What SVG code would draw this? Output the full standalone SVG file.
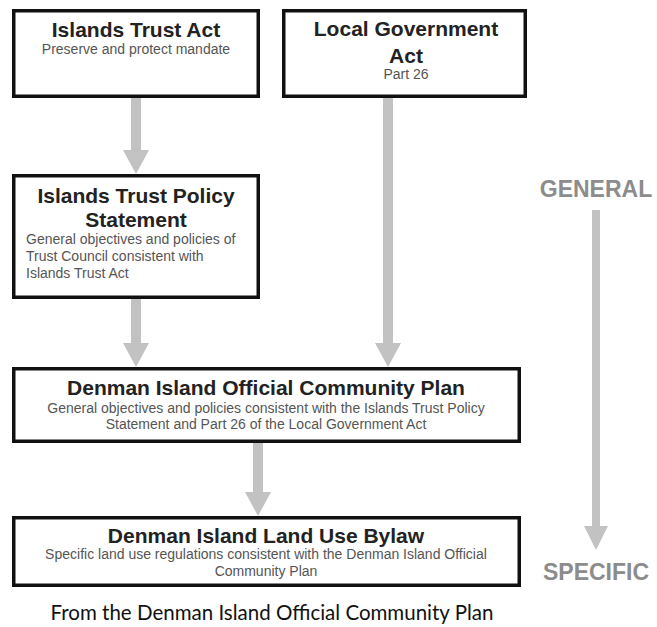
<svg xmlns="http://www.w3.org/2000/svg" width="657" height="627" viewBox="0 0 657 627">
<defs>
<style>
.box{fill:#fff;stroke:#111;stroke-width:3.5}
.t{font-family:"Liberation Sans",Arial,sans-serif;font-weight:bold;font-size:21px;fill:#222;text-anchor:middle}
.b{font-family:"Liberation Sans",Arial,sans-serif;font-size:14px;fill:#555;text-anchor:middle}
.bl{text-anchor:start}
.g{font-family:"Liberation Sans",Arial,sans-serif;font-weight:bold;font-size:23px;fill:#8c8c8c;text-anchor:middle}
.cap{font-family:"Lato","Open Sans",sans-serif;font-size:20.5px;fill:#111;text-anchor:middle}
.arr{fill:#c2c2c2}
</style>
</defs>
<rect width="657" height="627" fill="#fff"/>
<g id="connectors">
<polygon class="arr" points="131,98 141,98 141,150 149,150 136,174 123,150 131,150"/>
<polygon class="arr" points="131,299 141,299 141,343 149,343 136,367 123,343 131,343"/>
<polygon class="arr" points="383,98 393,98 393,343 401,343 388,367 375,343 383,343"/>
<polygon class="arr" points="253,443 263,443 263,492 271,492 258,516 245,492 253,492"/>
</g>
<g id="n-ita">
<rect class="box" x="13.75" y="10.75" width="244.5" height="85.5"/>
<text class="t" x="136" y="37">Islands Trust Act</text>
<text class="b" x="136" y="54">Preserve and protect mandate</text>
</g>
<g id="n-lga">
<rect class="box" x="283.75" y="10.75" width="241.5" height="85.5"/>
<text class="t" x="406" y="36">Local Government</text>
<text class="t" x="406" y="63">Act</text>
<text class="b" x="406" y="79">Part 26</text>
</g>
<g id="n-itps">
<rect class="box" x="13.75" y="175.75" width="244.5" height="121.5"/>
<text class="t" x="136" y="203">Islands Trust Policy</text>
<text class="t" x="136" y="227">Statement</text>
<text class="b bl" x="26" y="244">General objectives and policies of</text>
<text class="b bl" x="26" y="261">Trust Council consistent with</text>
<text class="b bl" x="26" y="278">Islands Trust Act</text>
</g>
<g id="n-ocp">
<rect class="box" x="13.75" y="368.75" width="505.5" height="72.5"/>
<text class="t" x="266" y="395">Denman Island Official Community Plan</text>
<text class="b" x="266" y="413">General objectives and policies consistent with the Islands Trust Policy</text>
<text class="b" x="266" y="429">Statement and Part 26 of the Local Government Act</text>
</g>
<g id="n-lub">
<rect class="box" x="13.75" y="517.75" width="505.5" height="67.5"/>
<text class="t" x="266" y="543">Denman Island Land Use Bylaw</text>
<text class="b" x="266" y="559">Specific land use regulations consistent with the Denman Island Official</text>
<text class="b" x="266" y="576">Community Plan</text>
</g>
<g id="scale">
<text class="g" x="596" y="197">GENERAL</text>
<polygon class="arr" points="592,210 600,210 600,526 608,526 596,550 584,526 592,526"/>
<text class="g" x="596" y="580" font-size="24">SPECIFIC</text>
</g>
<text class="cap" x="272" y="620">From the Denman Island Official Community Plan</text>
</svg>
